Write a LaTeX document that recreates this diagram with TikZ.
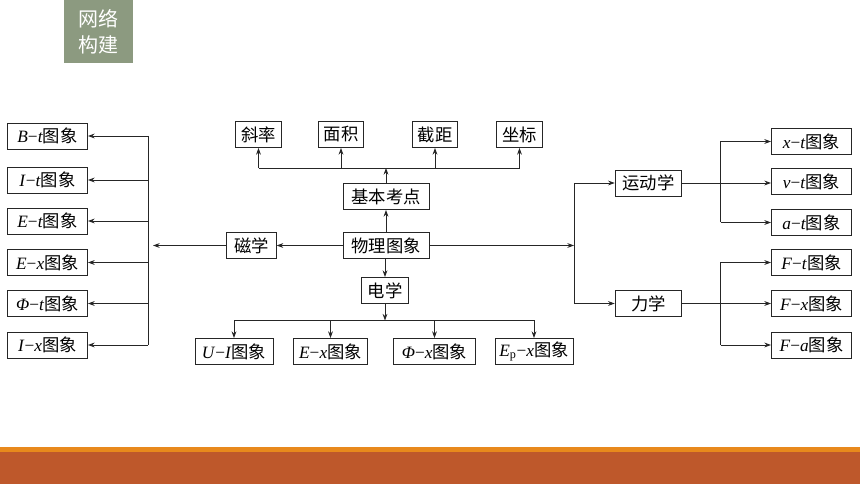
\documentclass[tikz,border=0pt]{standalone}
\usepackage{fontspec}
\setmainfont{Liberation Serif}
\newfontfamily\cjk{Noto Sans CJK SC}
\usetikzlibrary{arrows.meta}
\definecolor{tagGreen}{HTML}{8C9A80}
\definecolor{barOrange}{HTML}{E8891C}
\definecolor{barBrown}{HTML}{BE582B}
\newcommand{\tu}{{\cjk 图象}}
\newcommand{\vi}[1]{\textit{#1}}
\newcommand{\mi}{−}
\tikzset{
  box/.style={draw=black!85, line width=0.7pt, inner sep=0pt, minimum height=19.5pt, font=\fontsize{13}{15}\selectfont},
  side/.style={box, minimum width=60pt},
  link/.style={draw=black!85, line width=0.6pt},
  arrowline/.style={link, -{Stealth[length=5pt,width=3.6pt]}},
}

\begin{document}
\begin{tikzpicture}[x=0.75pt, y=-0.75pt]
\useasboundingbox (0,0) rectangle (860,484);
% tag and footer
\fill[tagGreen] (64,0) rectangle (133,63);
\node[text=white, align=center, font=\cjk\fontsize{15}{19.5}\selectfont] (tag) at (98.5,32) {网络\\构建};
\fill[barOrange] (0,446.5) rectangle (860,452);
\fill[barBrown] (0,452) rectangle (860,484);
% centre nodes
\node[box, minimum width=64.5pt] (wuli) at (386,245.5) {\cjk 物理图象};
\node[box, minimum width=64.5pt] (jiben) at (386,196.5) {\cjk 基本考点};
\node[box, minimum width=35pt] (dian) at (385,290.5) {\cjk 电学};
\node[box, minimum width=37pt] (ci) at (251.5,245.5) {\cjk 磁学};
\node[box, minimum width=34pt] (xielv) at (258.5,134.5) {\cjk 斜率};
\node[box, minimum width=34pt] (mianji) at (341,134.5) {\cjk 面积};
\node[box, minimum width=34pt] (jieju) at (435,134.5) {\cjk 截距};
\node[box, minimum width=34pt] (zuobiao) at (519.5,134.5) {\cjk 坐标};
\node[box, minimum width=58.5pt] (uiimg) at (234,351.5) {\vi{U}\mi\vi{I}\tu};
\node[box, minimum width=55pt] (exbimg) at (330.5,351.5) {\vi{E}\mi\vi{x}\tu};
\node[box, minimum width=61pt] (phiximg) at (434.5,351.5) {\vi{Φ}\mi\vi{x}\tu};
\node[box, minimum width=58.5pt] (epximg) at (534,351.5) {\vi{E}\textsubscript{p}\mi\vi{x}\tu};
% left column
\node[side] (btimg) at (47.5,136) {\vi{B}\mi\vi{t}\tu};
\node[side] (itimg) at (47.5,180) {\vi{I}\mi\vi{t}\tu};
\node[side] (etimg) at (47.5,221) {\vi{E}\mi\vi{t}\tu};
\node[side] (eximg) at (47.5,262.5) {\vi{E}\mi\vi{x}\tu};
\node[side] (phitimg) at (47.5,303.5) {\vi{Φ}\mi\vi{t}\tu};
\node[side] (iximg) at (47.5,345) {\vi{I}\mi\vi{x}\tu};
% right side
\node[box, minimum width=50pt] (yundong) at (648.5,183) {\cjk 运动学};
\node[box, minimum width=50pt] (lixue) at (648.5,303.5) {\cjk 力学};
\node[side] (xtimg) at (811.5,141.5) {\vi{x}\mi\vi{t}\tu};
\node[side] (vtimg) at (811.5,181.5) {\vi{v}\mi\vi{t}\tu};
\node[side] (atimg) at (811.5,222.5) {\vi{a}\mi\vi{t}\tu};
\node[side] (ftimg) at (811.5,262.5) {\vi{F}\mi\vi{t}\tu};
\node[side] (fximg) at (811.5,303.5) {\vi{F}\mi\vi{x}\tu};
\node[side] (faimg) at (811.5,345) {\vi{F}\mi\vi{a}\tu};
% bus points
\coordinate (tbus) at (386,168);
\coordinate (bbus) at (385,320.5);
\coordinate (lbus) at (148,245.5);
\coordinate (lin) at (153,245.5);
\coordinate (rin) at (574,245.5);
\coordinate (rbus) at (720.5,245.5);
% up and down
\draw[arrowline] (wuli.north) -- (jiben.south);
\draw[arrowline] (jiben.north) -- (tbus);
\draw[link] (xielv |- tbus) -- (zuobiao |- tbus);
\foreach \n in {xielv,mianji,jieju,zuobiao}
  \draw[arrowline] (\n |- tbus) -- (\n.south);
\draw[arrowline] (dian |- wuli.south) -- (dian.north);
\draw[arrowline] (dian.south) -- (bbus);
\draw[link] (uiimg |- bbus) -- (epximg |- bbus);
\foreach \n in {uiimg,exbimg,phiximg,epximg}
  \draw[arrowline] (\n |- bbus) -- (\n.north);
% left
\draw[arrowline] (wuli.west) -- (ci.east);
\draw[arrowline] (ci.west) -- (lin);
\draw[link] (lbus |- btimg) -- (lbus |- iximg);
\foreach \n in {btimg,itimg,etimg,eximg,phitimg,iximg}
  \draw[arrowline] (lbus |- \n) -- (\n.east);
% right
\draw[arrowline] (wuli.east) -- (rin);
\draw[link] (rin |- yundong) -- (rin |- lixue);
\draw[arrowline] (rin |- yundong) -- (yundong.west);
\draw[arrowline] (rin |- lixue) -- (lixue.west);
\draw[arrowline] (yundong.east) -- (yundong -| vtimg.west);
\draw[link] (rbus |- xtimg) -- (rbus |- atimg);
\foreach \n in {xtimg,atimg}
  \draw[arrowline] (rbus |- \n) -- (\n.west);
\draw[arrowline] (lixue.east) -- (lixue -| fximg.west);
\draw[link] (rbus |- ftimg) -- (rbus |- faimg);
\foreach \n in {ftimg,faimg}
  \draw[arrowline] (rbus |- \n) -- (\n.west);
\end{tikzpicture}
\end{document}
